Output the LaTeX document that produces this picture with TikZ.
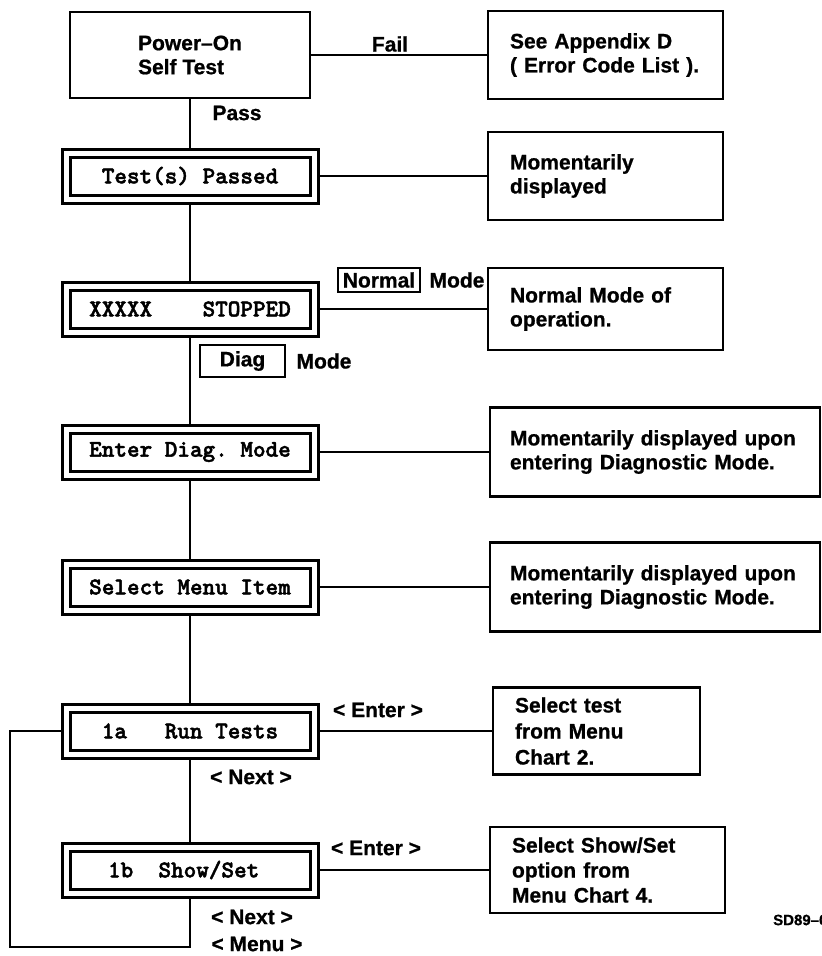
\documentclass[tikz,border=0pt]{standalone}
\usepackage{fontspec}
\setmainfont{Liberation Sans}[BoldFeatures={FakeBold=0.8}]
\newfontfamily\lcdfont{lmmonolt10-bold.otf}[FakeBold=2]
\usetikzlibrary{positioning}

\tikzset{
  panel/.style={draw, line width=3pt, double, double distance=5pt,
    minimum width=248pt, minimum height=46pt, inner sep=0pt, outer sep=5.5pt,
    font=\lcdfont\fontsize{24}{28}\selectfont},
  note/.style={draw, line width=2.5pt, align=left, inner xsep=22pt, inner ysep=4pt,
    font=\bfseries\fontsize{21}{24}\selectfont},
  key/.style={draw, line width=2pt, inner sep=0pt, font=\bfseries\fontsize{21}{24}\selectfont},
  lbl/.style={inner sep=0pt, font=\bfseries\fontsize{21}{24}\selectfont},
  link/.style={line width=2pt}
}

\begin{document}
\begin{tikzpicture}[x=1pt, y=-1pt, on grid]
  \useasboundingbox (0,0) rectangle (822,956);
  % display column
  \node[note, inner xsep=0pt, minimum width=240pt, minimum height=86pt] (pwr) at (190,55) {Power–On\\Self Test};
  \node[panel] (tsp) [below=121pt of pwr] {Test(s) Passed};
  \node[panel] (stp) [below=133pt of tsp] {XXXXX\ \ \ \ STOPPED};
  \node[panel] (edm) [below=143pt of stp] {Enter Diag.\ Mode};
  \node[panel] (smi) [below=135pt of edm] {Select Menu Item};
  \node[panel] (r1a) [below=144pt of smi] {1a\ \ \ Run Tests};
  \node[panel] (r1b) [below=139pt of r1a] {1b\ \ Show/Set\ \ };
  % remarks on the right
  \node[note, text width=191pt, minimum height=88pt] (apx) [right=415.5pt of pwr] {See Appendix D\\( Error Code List ).};
  \node[note, text width=191pt, minimum height=88pt] (mom1) [right=415.5pt of tsp] {Momentarily\\displayed};
  \node[note, text width=191pt, minimum height=82pt] (opr) [right=415.5pt of stp] {Normal Mode of\\operation.};
  \node[note, inner xsep=20pt, text width=290pt, minimum height=89pt] (mom2) [right=465pt of edm] {Momentarily displayed upon\\entering Diagnostic Mode.};
  \node[note, inner xsep=20pt, text width=290pt, minimum height=89pt] (mom3) [right=465pt of smi] {Momentarily displayed upon\\entering Diagnostic Mode.};
  \node[note, text width=163pt, minimum height=87pt, font=\bfseries\fontsize{21}{26}\selectfont] (sel1) [right=406.5pt of r1a] {Select test\\from Menu\\Chart 2.};
  \node[note, text width=191pt, minimum height=86pt, font=\bfseries\fontsize{21}{25}\selectfont] (sel2) [right=417.5pt of r1b] {Select Show/Set\\option from\\Menu Chart 4.};
  % keys and labels
  \node[key, minimum width=82pt, minimum height=24pt] (nrm) at (379,280) {Normal};
  \node[lbl] (mdn) [right=78pt of nrm] {Mode};
  \node[key, minimum width=85pt, minimum height=32pt] (dg) at (242.5,361) {Diag};
  \node[lbl] (mdd) [right=81.5pt of dg] {Mode};
  \node[lbl] (fail) at (390,44) {Fail};
  \node[lbl] (pass) at (237,113) {Pass};
  \node[lbl] (ent1) at (378,710) {< Enter >};
  \node[lbl] (nxt1) at (251,777) {< Next >};
  \node[lbl] (ent2) at (376,848) {< Enter >};
  \node[lbl] (nxt2) at (252,917) {< Next >};
  \node[lbl] (mnu) at (257,944) {< Menu >};
  \node[lbl, anchor=west, font=\bfseries\fontsize{15}{18}\selectfont] (tag) at (773,920) {SD89–0};
  % connectors
  \draw[link] (pwr.east) -- (apx.west);
  \draw[link] (pwr.south) -- (tsp.north);
  \draw[link] (tsp.east) -- (mom1.west);
  \draw[link] (tsp.south) -- (stp.north);
  \draw[link] (stp.east) -- (opr.west);
  \draw[link] (stp.south) -- (edm.north);
  \draw[link] (edm.east) -- (mom2.west);
  \draw[link] (edm.south) -- (smi.north);
  \draw[link] (smi.east) -- (mom3.west);
  \draw[link] (smi.south) -- (r1a.north);
  \draw[link] (r1a.east) -- (sel1.west);
  \draw[link] (r1a.south) -- (r1b.north);
  \draw[link] (r1b.east) -- (sel2.west);
  \coordinate (lp) at (10,947);
  \draw[link] (r1b.south) |- (lp) |- (r1a.west);
\end{tikzpicture}
\end{document}
